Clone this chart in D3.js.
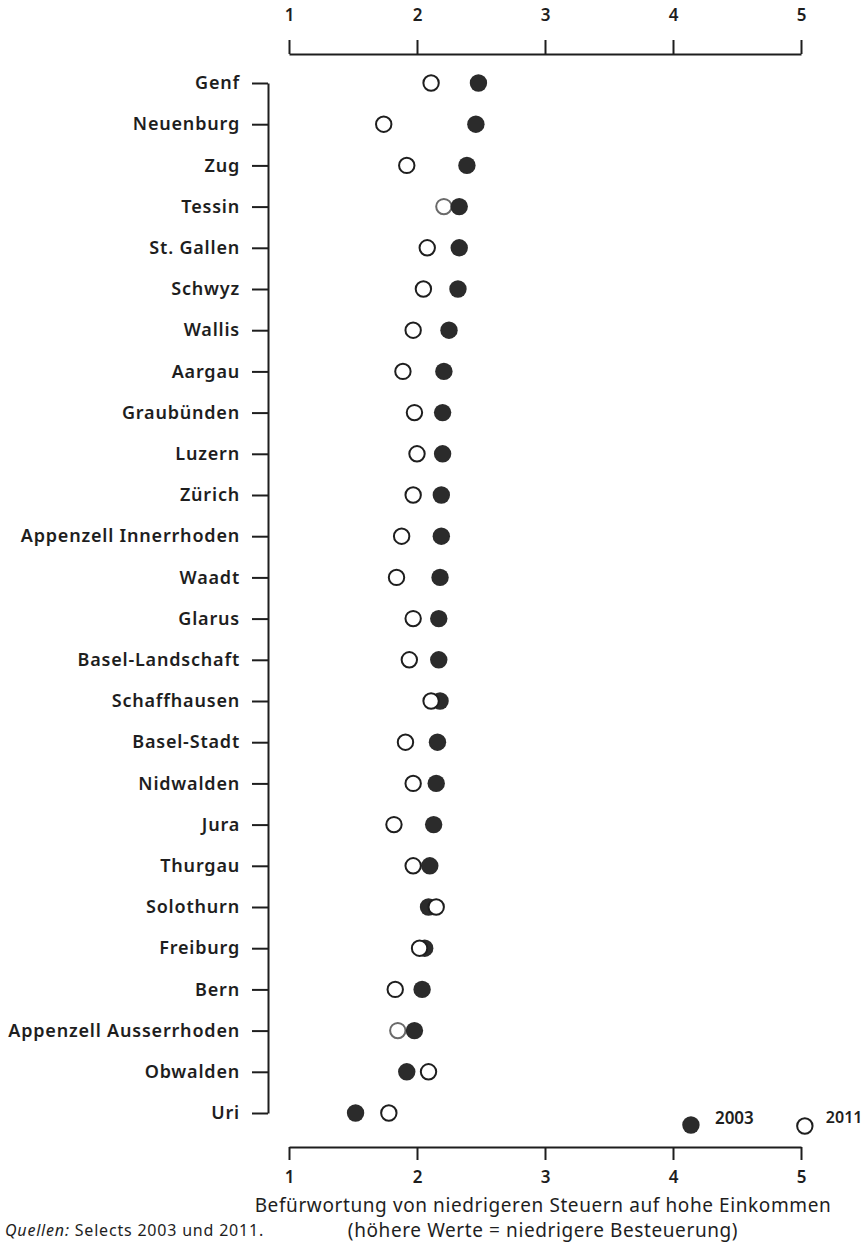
<!DOCTYPE html>
<html><head><meta charset="utf-8">
<script src="https://cdn.jsdelivr.net/npm/d3@7"></script>
<style>
body{margin:0;background:#fff;}
svg{display:block;font-family:"Noto Sans",sans-serif;}
</style></head>
<body><svg id="c" width="867" height="1243"></svg>
<script>
const cantons = ["Genf","Neuenburg","Zug","Tessin","St. Gallen","Schwyz","Wallis","Aargau","Graubünden","Luzern","Zürich","Appenzell Innerrhoden","Waadt","Glarus","Basel-Landschaft","Schaffhausen","Basel-Stadt","Nidwalden","Jura","Thurgau","Solothurn","Freiburg","Bern","Appenzell Ausserrhoden","Obwalden","Uri"];
const values2003 = [2.48,2.46,2.39,2.33,2.33,2.32,2.25,2.21,2.20,2.20,2.19,2.19,2.18,2.17,2.17,2.18,2.16,2.15,2.13,2.10,2.09,2.06,2.04,1.98,1.92,1.52];
const values2011 = [2.11,1.74,1.92,2.21,2.08,2.05,1.97,1.89,1.98,2.00,1.97,1.88,1.84,1.97,1.94,2.11,1.91,1.97,1.82,1.97,2.15,2.02,1.83,1.85,2.09,1.78];
const tickValuesX = [1,2,3,4,5];
const filledOnTop = ["Tessin","Appenzell Ausserrhoden"];
const seriesLabels = ["2003","2011"];
const axisTitle = ["Befürwortung von niedrigeren Steuern auf hohe Einkommen","(höhere Werte = niedrigere Besteuerung)"];

(function(){
const svg = d3.select("#c");
const x = d3.scaleLinear().domain([1,5]).range([289,801]);
const y = d3.scalePoint().domain(cantons).range([83,1113]);
const ink = "#1e1e1e";

const topAxis = svg.append("g").attr("transform","translate(0,54)")
  .call(d3.axisTop(x).tickValues(tickValuesX).tickSize(14).tickSizeOuter(0).tickPadding(19).tickFormat(d3.format("d")));
const botAxis = svg.append("g").attr("transform","translate(0,1147)")
  .call(d3.axisBottom(x).tickValues(tickValuesX).tickSize(13).tickSizeOuter(0).tickPadding(11).tickFormat(d3.format("d")));
[topAxis,botAxis].forEach(g=>{
  g.select(".domain").attr("stroke",ink).attr("stroke-width",2);
  g.selectAll(".tick line").attr("stroke",ink).attr("stroke-width",2);
  g.selectAll(".tick text").attr("fill",ink).attr("font-size",17).attr("font-weight",600).attr("font-family","Noto Sans");
});

const leftAxis = svg.append("g").attr("transform","translate(268,0)")
  .call(d3.axisLeft(y).tickSize(16).tickSizeOuter(0).tickPadding(12));
leftAxis.select(".domain").attr("stroke",ink).attr("stroke-width",2);
leftAxis.selectAll(".tick line").attr("stroke",ink).attr("stroke-width",2);
leftAxis.selectAll(".tick text").attr("fill",ink).attr("font-size",18).attr("font-weight",600)
  .attr("letter-spacing",0.8).attr("font-family","Noto Sans");

const rows = cantons.map((c,i)=>({c, a:values2003[i], b:values2011[i], ft: filledOnTop.includes(c)}));
const R = 8.2;
const g = svg.append("g");
function filled(sel){ sel.append("circle").attr("cx",d=>x(d.a)).attr("cy",d=>y(d.c)).attr("r",R+0.5).attr("fill","#2b2b2b"); }
function open(sel){ sel.append("circle").attr("cx",d=>x(d.b)).attr("cy",d=>y(d.c)).attr("r",R-0.5).attr("fill","#fff").attr("stroke",d=>d.ft?"#6a6a6a":ink).attr("stroke-width",2); }
const rg = g.selectAll("g.row").data(rows).join("g").attr("class","row");
rg.each(function(d){
  const s = d3.select(this);
  if(d.ft){ open(s); filled(s); } else { filled(s); open(s); }
});

const lg = svg.append("g");
lg.append("circle").attr("cx",x(4.14)).attr("cy",1125).attr("r",R+0.5).attr("fill","#2b2b2b");
lg.append("text").attr("x",x(4.14)+24).attr("y",1124).text(seriesLabels[0]).attr("font-size",17).attr("font-weight",600).attr("fill",ink);
lg.append("circle").attr("cx",x(5.03)).attr("cy",1126).attr("r",R-0.5).attr("fill","#fff").attr("stroke",ink).attr("stroke-width",2);
lg.append("text").attr("x",x(5.03)+21).attr("y",1123).text(seriesLabels[1]).attr("font-size",16).attr("font-weight",600).attr("fill",ink);

svg.append("text").attr("x",543).attr("y",1212).attr("text-anchor","middle").attr("font-size",19).attr("letter-spacing",0.6).attr("fill",ink).text(axisTitle[0]);
svg.append("text").attr("x",543).attr("y",1237).attr("text-anchor","middle").attr("font-size",19).attr("letter-spacing",0.6).attr("fill",ink).text(axisTitle[1]);

const src = svg.append("text").attr("x",5).attr("y",1236).attr("font-size",16).attr("letter-spacing",0.8).attr("fill",ink);
src.append("tspan").attr("font-style","italic").text("Quellen:");
src.append("tspan").text(" Selects 2003 und 2011.");
})();
</script></body></html>
